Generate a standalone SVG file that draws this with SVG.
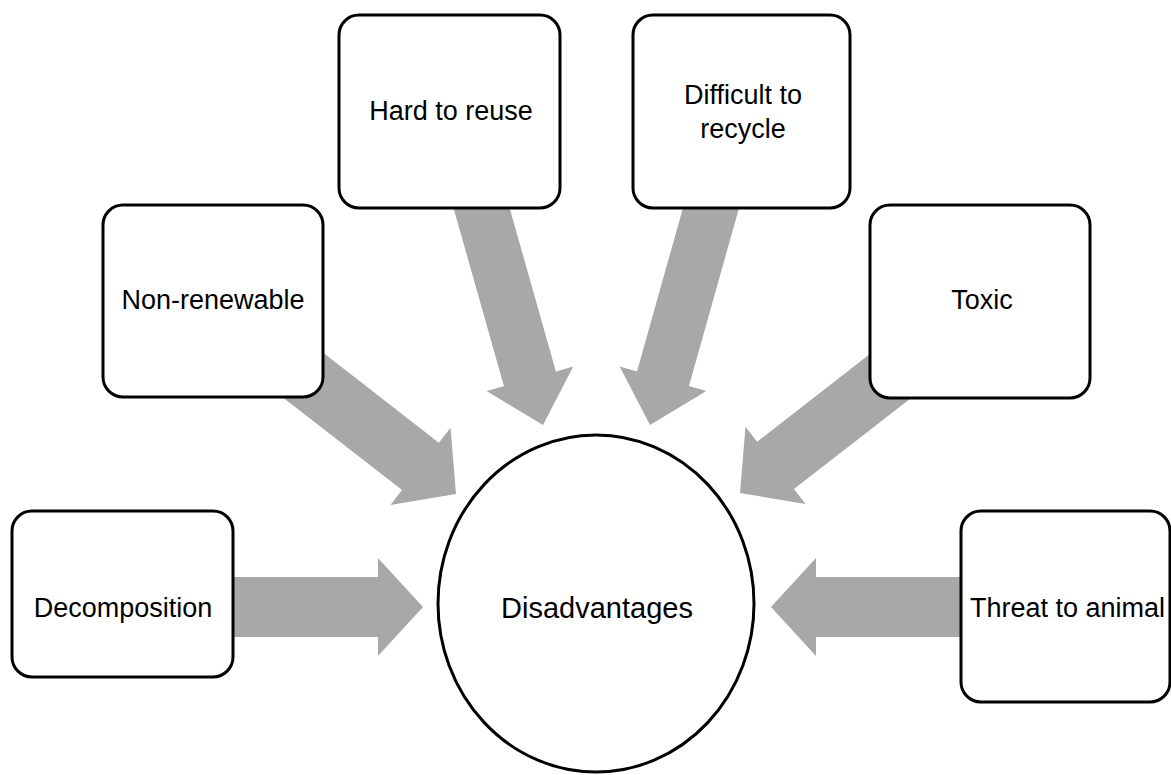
<svg xmlns="http://www.w3.org/2000/svg" xmlns:xlink="http://www.w3.org/1999/xlink" width="1171" height="775" viewBox="0 0 1171 775">
<style>
.box{fill:#ffffff;stroke:#000000;stroke-width:3}
.arrow{fill:#a8a8a8}
text{font-family:"Liberation Sans",Arial,sans-serif;font-size:27px;fill:#000000;text-anchor:middle}
</style>
<defs>
<path id="arrowSide" d="M-200,-30 L-45,-30 L-45,-49 L0,0 L-45,49 L-45,30 L-200,30 Z"/>
<path id="arrowTop" d="M-240,-27 L-48,-27 L-48,-45 L0,0 L-48,45 L-48,27 L-240,27 Z"/>
</defs>
<rect width="1171" height="775" fill="#ffffff"/>
<g id="connectors">
<use xlink:href="#arrowSide" class="arrow" transform="translate(423,607)"/>
<use xlink:href="#arrowSide" class="arrow" transform="translate(771,607) rotate(180)"/>
<use xlink:href="#arrowSide" class="arrow" transform="translate(456,494) rotate(37.85)"/>
<use xlink:href="#arrowSide" class="arrow" transform="translate(740,493) rotate(142.15)"/>
<use xlink:href="#arrowTop" class="arrow" transform="translate(543,425) rotate(74.2)"/>
<use xlink:href="#arrowTop" class="arrow" transform="translate(650,425) rotate(105.7)"/>
</g>
<g id="center">
<ellipse cx="596" cy="603.5" rx="158" ry="168.5" fill="#ffffff" stroke="#000000" stroke-width="3"/>
<text x="597" y="618" style="font-size:29px">Disadvantages</text>
</g>
<g id="decomposition">
<rect class="box" x="12" y="511" width="221" height="166" rx="20"/>
<text x="123" y="617">Decomposition</text>
</g>
<g id="non-renewable">
<rect class="box" x="103" y="205" width="220" height="192" rx="20"/>
<text x="213" y="309">Non-renewable</text>
</g>
<g id="hard-to-reuse">
<rect class="box" x="339" y="15" width="221" height="193" rx="20"/>
<text x="451" y="120">Hard to reuse</text>
</g>
<g id="difficult-to-recycle">
<rect class="box" x="633" y="15" width="217" height="193" rx="20"/>
<text x="743" y="104">Difficult to</text>
<text x="743" y="138">recycle</text>
</g>
<g id="toxic">
<rect class="box" x="870" y="205" width="220" height="193" rx="20"/>
<text x="982" y="309">Toxic</text>
</g>
<g id="threat-to-animal">
<rect class="box" x="961" y="511" width="209" height="191" rx="20"/>
<text x="970" y="617" style="text-anchor:start">Threat to animal</text>
</g>
</svg>
